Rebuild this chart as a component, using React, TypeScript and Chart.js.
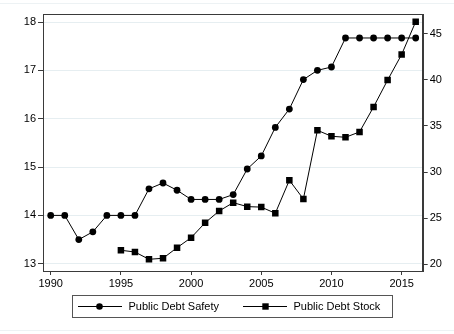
import React, { useEffect, useRef } from "react";
import { Chart, registerables } from "chart.js";

Chart.register(...registerables);

// Public debt series, 1990–2016
const safetyYears = [
  1990, 1991, 1992, 1993, 1994, 1995, 1996, 1997, 1998, 1999, 2000, 2001, 2002, 2003,
  2004, 2005, 2006, 2007, 2008, 2009, 2010, 2011, 2012, 2013, 2014, 2015, 2016,
];
const safetyValues = [
  14.0, 14.0, 13.5, 13.66, 14.0, 14.0, 14.0, 14.55, 14.67, 14.52, 14.33, 14.33, 14.33, 14.43,
  14.96, 15.23, 15.82, 16.2, 16.81, 17.0, 17.07, 17.67, 17.67, 17.67, 17.67, 17.67, 17.67,
];
const stockYears = [
  1995, 1996, 1997, 1998, 1999, 2000, 2001, 2002, 2003, 2004, 2005, 2006, 2007, 2008,
  2009, 2010, 2011, 2012, 2013, 2014, 2015, 2016,
];
const stockValues = [
  21.52, 21.33, 20.54, 20.65, 21.8, 22.88, 24.5, 25.78, 26.68, 26.25, 26.2, 25.53, 29.11, 27.08,
  34.53, 33.88, 33.77, 34.35, 37.06, 39.97, 42.75, 46.3,
];
const xTicks = [1990, 1995, 2000, 2005, 2010, 2015];
const leftTicks = [13, 14, 15, 16, 17, 18];
const rightTicks = [20, 25, 30, 35, 40, 45];
const seriesNames = ["Public Debt Safety", "Public Debt Stock"];

const FONT = "'Liberation Sans', Arial, Helvetica, sans-serif";
const INK = "#000000";
const FRAME = "#3a3a3a";
const GRID = "#e6eef1";

const framePlugin = {
  id: "frame",
  beforeDraw(chart: any) {
    const { ctx, width } = chart;
    ctx.save();
    ctx.strokeStyle = "#edf2f4";
    ctx.lineWidth = 1;
    ctx.beginPath();
    ctx.moveTo(0, 3.5);
    ctx.lineTo(width, 3.5);
    ctx.moveTo(0, 330.5);
    ctx.lineTo(width, 330.5);
    ctx.stroke();
    ctx.restore();
  },
  afterDraw(chart: any) {
    const { ctx, chartArea } = chart;
    ctx.save();
    ctx.strokeStyle = FRAME;
    ctx.lineWidth = 1;
    ctx.strokeRect(
      Math.round(chartArea.left) + 0.5,
      Math.round(chartArea.top) + 0.5,
      Math.round(chartArea.right) - Math.round(chartArea.left),
      Math.round(chartArea.bottom) - Math.round(chartArea.top)
    );

    // legend box
    const bx = 72.5, by = 295.5, bw = 320, bh = 22;
    ctx.strokeStyle = "#555555";
    ctx.strokeRect(bx, by, bw, bh);
    const cy = 306.5;
    ctx.strokeStyle = INK;
    ctx.fillStyle = INK;
    ctx.lineWidth = 1;
    // safety symbol
    ctx.beginPath();
    ctx.moveTo(78, cy);
    ctx.lineTo(122, cy);
    ctx.stroke();
    ctx.beginPath();
    ctx.arc(99.5, cy, 3.3, 0, Math.PI * 2);
    ctx.fill();
    // stock symbol
    ctx.beginPath();
    ctx.moveTo(243, cy);
    ctx.lineTo(287, cy);
    ctx.stroke();
    ctx.fillRect(265.5 - 3.2, cy - 3.2, 6.4, 6.4);
    ctx.font = `11px ${FONT}`;
    ctx.textBaseline = "middle";
    ctx.textAlign = "left";
    ctx.fillText(seriesNames[0], 128.5, cy + 0.5);
    ctx.fillText(seriesNames[1], 293.5, cy + 0.5);
    ctx.restore();
  },
};

export default function App() {
  const ref = useRef<HTMLCanvasElement | null>(null);

  useEffect(() => {
    if (!ref.current) return;
    const tickFont = { family: FONT, size: 11 };
    const chart = new Chart(ref.current, {
      type: "line",
      data: {
        datasets: [
          {
            label: seriesNames[0],
            data: safetyYears.map((x, i) => ({ x, y: safetyValues[i] })),
            yAxisID: "y",
            borderColor: INK,
            backgroundColor: INK,
            borderWidth: 1,
            pointStyle: "circle",
            pointRadius: 3.4,
            pointBorderWidth: 0,
            tension: 0,
          },
          {
            label: seriesNames[1],
            data: stockYears.map((x, i) => ({ x, y: stockValues[i] })),
            yAxisID: "y1",
            borderColor: INK,
            backgroundColor: INK,
            borderWidth: 1,
            pointStyle: "rect",
            pointRadius: 4.6,
            pointBorderWidth: 0,
            tension: 0,
          },
        ],
      },
      options: {
        animation: false,
        responsive: false,
        events: [],
        layout: { padding: { top: 14, left: 0, right: 0, bottom: 0 } },
        plugins: { legend: { display: false }, tooltip: { enabled: false } },
        scales: {
          x: {
            type: "linear",
            min: 1989.45,
            max: 2016.5,
            afterBuildTicks: (axis: any) => {
              axis.ticks = xTicks.map((value) => ({ value }));
            },
            afterFit: (axis: any) => {
              axis.height = 63;
            },
            ticks: {
              font: tickFont,
              color: INK,
              padding: 2,
              maxRotation: 0,
              autoSkip: false,
              callback: (v: any) => String(v),
            },
            grid: { drawOnChartArea: false, tickLength: 4, tickColor: FRAME },
            border: { color: FRAME },
          },
          y: {
            type: "linear",
            position: "left",
            min: 12.85,
            max: 18.166,
            afterBuildTicks: (axis: any) => {
              axis.ticks = leftTicks.map((value) => ({ value }));
            },
            afterFit: (axis: any) => {
              axis.width = 43;
            },
            ticks: { font: tickFont, color: INK, padding: 2, callback: (v: any) => String(v) },
            grid: { color: GRID, tickColor: FRAME, tickLength: 5 },
            border: { color: FRAME },
          },
          y1: {
            type: "linear",
            position: "right",
            min: 19.27,
            max: 47.14,
            afterBuildTicks: (axis: any) => {
              axis.ticks = rightTicks.map((value) => ({ value }));
            },
            afterFit: (axis: any) => {
              axis.width = 31.3;
            },
            ticks: { font: tickFont, color: INK, padding: 2, callback: (v: any) => String(v) },
            grid: { drawOnChartArea: false, tickColor: FRAME, tickLength: 5 },
            border: { color: FRAME },
          },
        },
      },
      plugins: [framePlugin],
    });
    return () => chart.destroy();
  }, []);

  return (
    <div style={{ position: "absolute", left: 0, top: 0, width: 454, height: 334, background: "#fff" }}>
      <canvas ref={ref} width={454} height={334} />
    </div>
  );
}
